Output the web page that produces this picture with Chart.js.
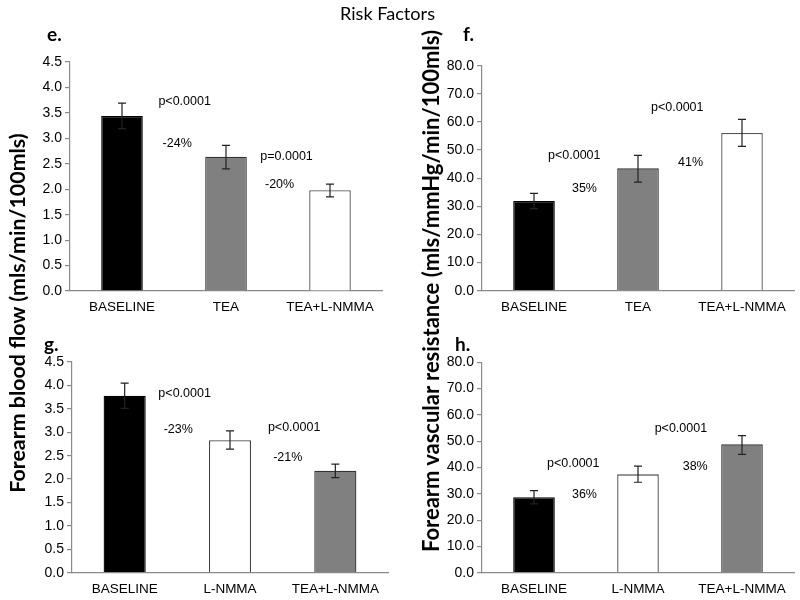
<!DOCTYPE html>
<html>
<head>
<meta charset="utf-8">
<script src="https://cdn.jsdelivr.net/npm/chart.js@4/dist/chart.umd.min.js"></script>
<style>
  html, body { margin: 0; padding: 0; background: #fff; }
  #wrap { position: relative; width: 800px; height: 600px; overflow: hidden; background: #fff; }
  canvas { position: absolute; }
  .txt { position: absolute; white-space: nowrap; color: #000; line-height: 1; }
  .rot { transform: translate(-50%, -50%) rotate(-90deg); font-family: Lato, "Open Sans", sans-serif; font-weight: bold; }
  .letter { font-family: Lato, "Open Sans", sans-serif; font-weight: bold; font-size: 19px; transform: translate(0, -50%); }
</style>
</head>
<body>
<div id="wrap">
  <canvas id="cE" width="400" height="320" style="left:0;top:0"></canvas>
  <canvas id="cF" width="400" height="320" style="left:400px;top:0"></canvas>
  <canvas id="cG" width="400" height="300" style="left:0;top:300px"></canvas>
  <canvas id="cH" width="400" height="300" style="left:400px;top:300px"></canvas>
  <div class="txt" id="mainTitle" style="font-family: Lato, 'Open Sans', sans-serif;">Risk Factors</div>
  <div class="txt rot" id="yTitle1">Forearm blood flow (mls/min/100mls)</div>
  <div class="txt rot" id="yTitle2">Forearm vascular resistance (mls/mmHg/min/100mls)</div>
  <div class="txt letter" style="left:47px;top:33px">e.</div>
  <div class="txt letter" style="left:463px;top:33px">f.</div>
  <div class="txt letter" style="left:44px;top:343px">g.</div>
  <div class="txt letter" style="left:455px;top:343px">h.</div>
</div>
<script>
// ---------------- DATA ----------------
const categoriesTea = ['BASELINE', 'TEA', 'TEA+L-NMMA'];
const categoriesNmma = ['BASELINE', 'L-NMMA', 'TEA+L-NMMA'];

const flowTeaMean = [3.44, 2.64, 1.98];
const flowTeaLow  = [3.19, 2.40, 1.85];
const flowTeaHigh = [3.69, 2.86, 2.10];

const resTeaMean = [31.9, 43.5, 56.1];
const resTeaLow  = [29.2, 38.6, 51.3];
const resTeaHigh = [34.6, 48.1, 60.9];

const flowNmmaMean = [3.78, 2.83, 2.18];
const flowNmmaLow  = [3.51, 2.64, 2.03];
const flowNmmaHigh = [4.05, 3.03, 2.32];

const resNmmaMean = [28.7, 37.4, 48.8];
const resNmmaLow  = [26.2, 34.4, 45.0];
const resNmmaHigh = [31.2, 40.5, 52.1];

const flowTicks = [0.0, 0.5, 1.0, 1.5, 2.0, 2.5, 3.0, 3.5, 4.0, 4.5];
const resTicks  = [0, 10, 20, 30, 40, 50, 60, 70, 80];

const notesE = ['p<0.0001', '-24%', 'p=0.0001', '-20%'];
const notesF = ['p<0.0001', '35%', 'p<0.0001', '41%'];
const notesG = ['p<0.0001', '-23%', 'p<0.0001', '-21%'];
const notesH = ['p<0.0001', '36%', 'p<0.0001', '38%'];

// ---------------- STYLE / LAYOUT ----------------
const barFillTea  = ['#000000', '#808080', '#ffffff'];
const barLineTea  = ['#000000', '#333333', '#555555'];
const barFillNmma = ['#000000', '#ffffff', '#808080'];
const barLineNmma = ['#000000', '#444444', '#333333'];

// note positions: [category offset from first bar centre, value]
const posE = [[0.35, 3.73], [0.39, 2.89], [1.33, 2.65], [1.375, 2.10]];
const posF = [[0.135, 47.9], [0.365, 36.2], [1.125, 65.0], [1.385, 45.4]];
const posG = [[0.32, 3.82], [0.37, 3.05], [1.36, 3.11], [1.41, 2.47]];
const posH = [[0.125, 41.4], [0.365, 29.6], [1.16, 55.0], [1.43, 40.2]];

const errorBarPlugin = {
  id: 'errorBars',
  afterDatasetsDraw(chart, args, opts) {
    const ctx = chart.ctx;
    const meta = chart.getDatasetMeta(0);
    const y = chart.scales.y;
    ctx.save();
    ctx.strokeStyle = opts.color || '#222';
    ctx.lineWidth = 1.2;
    meta.data.forEach((bar, i) => {
      const yl = y.getPixelForValue(opts.low[i]);
      const yh = y.getPixelForValue(opts.high[i]);
      const x = bar.x;
      ctx.beginPath();
      ctx.moveTo(x, yl); ctx.lineTo(x, yh);
      ctx.moveTo(x - 4, yl); ctx.lineTo(x + 4, yl);
      ctx.moveTo(x - 4, yh); ctx.lineTo(x + 4, yh);
      ctx.stroke();
    });
    ctx.restore();
  }
};

const notesPlugin = {
  id: 'notes',
  afterDraw(chart, args, opts) {
    const ctx = chart.ctx;
    const xs = chart.scales.x, ys = chart.scales.y;
    const x0 = xs.getPixelForValue(0), cw = xs.getPixelForValue(1) - x0;
    ctx.save();
    ctx.fillStyle = '#000';
    ctx.font = '12.5px "Liberation Sans", Arial, sans-serif';
    ctx.textAlign = 'left';
    ctx.textBaseline = 'middle';
    opts.texts.forEach((t, i) => {
      const p = opts.pos[i];
      ctx.fillText(t, x0 + p[0] * cw, ys.getPixelForValue(p[1]));
    });
    ctx.restore();
  }
};

function makeChart(id, box, cats, mean, low, high, fills, lines, ticks, notes, pos) {
  const c = document.getElementById(id);
  const yW = box.L - box.cx;
  const xH = box.cy + box.h - box.B;
  new Chart(c, {
    type: 'bar',
    data: {
      labels: cats,
      datasets: [{
        data: mean,
        backgroundColor: fills,
        borderColor: lines,
        borderWidth: 1.3,
        borderSkipped: 'bottom',
        barPercentage: 0.5,
        categoryPercentage: 0.8
      }]
    },
    options: {
      responsive: false,
      animation: false,
      devicePixelRatio: 1,
      layout: { padding: { left: 0, top: box.T - box.cy, right: box.cx + box.w - box.R, bottom: 0 } },
      plugins: {
        legend: { display: false },
        tooltip: { enabled: false },
        title: { display: false },
        errorBars: { low: low, high: high, color: '#222' },
        notes: { texts: notes, pos: pos }
      },
      scales: {
        x: {
          grid: { display: false, drawTicks: false },
          border: { display: true, color: '#8a8a8a', width: 1.2 },
          ticks: { color: '#000', font: { family: '"Liberation Sans", Arial, sans-serif', size: 13.5 }, padding: 8, maxRotation: 0, autoSkip: false },
          afterFit(s) { s.height = xH; }
        },
        y: {
          min: ticks[0],
          max: ticks[ticks.length - 1],
          afterBuildTicks(s) { s.ticks = ticks.map(v => ({ value: v })); },
          grid: { display: true, drawOnChartArea: false, drawTicks: true, tickLength: 5, color: '#8a8a8a', lineWidth: 1.2 },
          border: { display: true, color: '#8a8a8a', width: 1.2 },
          ticks: {
            color: '#000',
            font: { family: '"Liberation Sans", Arial, sans-serif', size: 14 },
            padding: 3,
            callback: v => Number(v).toFixed(1)
          },
          afterFit(s) { s.width = yW; }
        }
      }
    },
    plugins: [errorBarPlugin, notesPlugin]
  });
}

makeChart('cE', { cx: 0, cy: 0, w: 400, h: 320, L: 70, R: 382, T: 62, B: 291 },
  categoriesTea, flowTeaMean, flowTeaLow, flowTeaHigh, barFillTea, barLineTea, flowTicks, notesE, posE);
makeChart('cF', { cx: 400, cy: 0, w: 400, h: 320, L: 482, R: 794, T: 65.7, B: 290.7 },
  categoriesTea, resTeaMean, resTeaLow, resTeaHigh, barFillTea, barLineTea, resTicks, notesF, posF);
makeChart('cG', { cx: 0, cy: 300, w: 400, h: 300, L: 72, R: 388, T: 362, B: 572.7 },
  categoriesNmma, flowNmmaMean, flowNmmaLow, flowNmmaHigh, barFillNmma, barLineNmma, flowTicks, notesG, posG);
makeChart('cH', { cx: 400, cy: 300, w: 400, h: 300, L: 482, R: 794, T: 362.3, B: 572.7 },
  categoriesNmma, resNmmaMean, resNmmaLow, resNmmaHigh, barFillNmma, barLineNmma, resTicks, notesH, posH);

// ---------------- TEXT FITTING ----------------
function fit(id, family, weight, targetLen, cxp, cyp, rotated) {
  const el = document.getElementById(id);
  const mc = document.createElement('canvas').getContext('2d');
  mc.font = weight + ' 100px ' + family;
  const w = mc.measureText(el.textContent).width;
  const size = 100 * targetLen / w;
  el.style.fontSize = size.toFixed(2) + 'px';
  el.style.left = cxp + 'px';
  el.style.top = cyp + 'px';
  if (!rotated) el.style.transform = 'translate(-50%, -50%)';
}
fit('mainTitle', 'Lato', 'normal', 95, 387.5, 13, false);
fit('yTitle1', 'Lato', 'bold', 360, 18, 313, true);
fit('yTitle2', 'Lato', 'bold', 523, 431, 291, true);
</script>
</body>
</html>
